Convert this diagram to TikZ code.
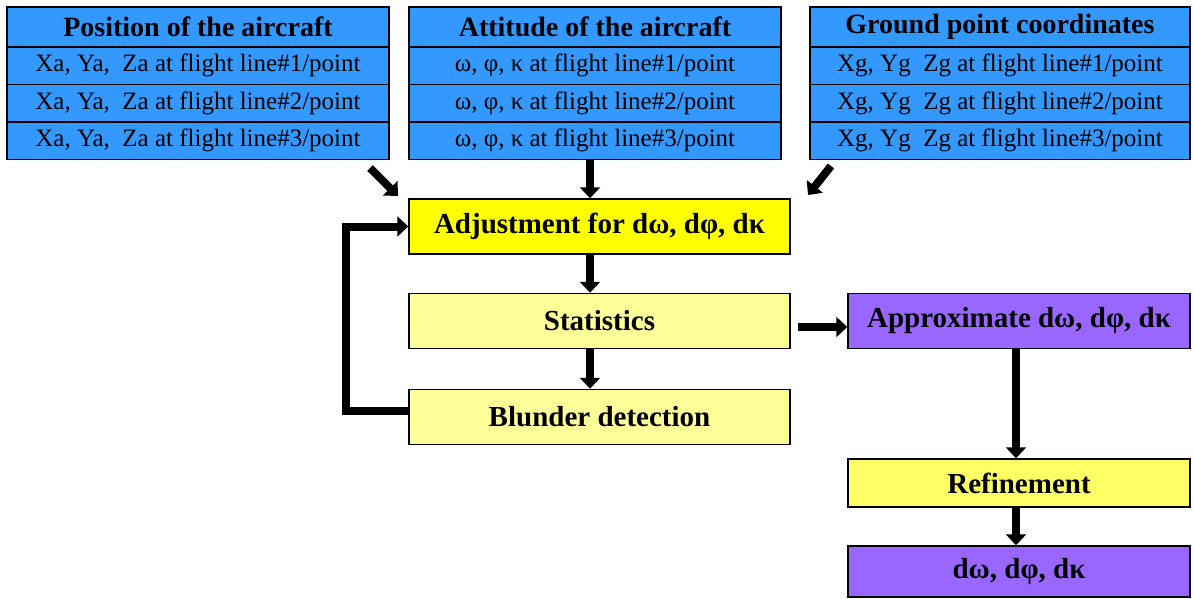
\documentclass[tikz,border=0pt]{standalone}
\usepackage{fontspec}
\setmainfont{Liberation Serif}
\usetikzlibrary{arrows.meta}
\definecolor{tblblue}{HTML}{3399FF}
\definecolor{adjyellow}{HTML}{FFFF00}
\definecolor{paleyellow}{HTML}{FFFF99}
\definecolor{refyellow}{HTML}{FFFF66}
\definecolor{violet}{HTML}{9966FF}
\tikzset{x=1pt, y=-1pt,
    cell/.style={draw=black, line width=1.5pt, fill=tblblue, inner sep=0pt,
        minimum height=37.5pt, font=\fontsize{25}{25}\selectfont},
    headcell/.style={cell, minimum height=40pt, font=\fontsize{28}{28}\selectfont\bfseries},
    stepbox/.style={draw=black, line width=1.5pt, inner sep=0pt,
        minimum width=381pt, minimum height=55pt, font=\fontsize{29}{29}\selectfont\bfseries},
    flow/.style={line width=8pt, -{Triangle[width=20pt,length=11pt]}},
    }

\begin{document}
\begin{tikzpicture}
\useasboundingbox (0,0) rectangle (1194,599);
% position table
\node[headcell, minimum width=382pt] (posT) at (198,27) {Position of the aircraft};
\node[cell, minimum width=382pt] (pos1) at (198,65.75) {Xa, Ya,\ \ Za at flight line\#1/point};
\node[cell, minimum width=382pt] (pos2) at (198,103.25) {Xa, Ya,\ \ Za at flight line\#2/point};
\node[cell, minimum width=382pt] (pos3) at (198,140.75) {Xa, Ya,\ \ Za at flight line\#3/point};
% attitude table
\node[headcell, minimum width=372pt] (attT) at (595,27) {Attitude of the aircraft};
\node[cell, minimum width=372pt] (att1) at (595,65.75) {ω, φ, κ at flight line\#1/point};
\node[cell, minimum width=372pt] (att2) at (595,103.25) {ω, φ, κ at flight line\#2/point};
\node[cell, minimum width=372pt] (att3) at (595,140.75) {ω, φ, κ at flight line\#3/point};
% ground point table
\node[headcell, minimum width=380pt] (gndT) at (1000,27) {Ground point coordinates};
\node[cell, minimum width=380pt] (gnd1) at (1000,65.75) {Xg, Yg\ \ Zg at flight line\#1/point};
\node[cell, minimum width=380pt] (gnd2) at (1000,103.25) {Xg, Yg\ \ Zg at flight line\#2/point};
\node[cell, minimum width=380pt] (gnd3) at (1000,140.75) {Xg, Yg\ \ Zg at flight line\#3/point};

% processing steps
\node[stepbox, fill=adjyellow] (adj) at (599.5,226.5) {Adjustment for dω, dφ, dκ};
\node[stepbox, fill=paleyellow] (stat) at (599.5,321) {Statistics};
\node[stepbox, fill=paleyellow] (blu) at (599.5,417) {Blunder detection};
\node[stepbox, fill=violet, minimum width=342pt] (appr) at (1019,321) {Approximate dω, dφ, dκ};
\node[stepbox, fill=refyellow, minimum width=342pt, minimum height=48pt] (refi) at (1019,483) {Refinement};
\node[stepbox, fill=violet, minimum width=342pt, minimum height=51pt] (res) at (1019,571.5) {dω, dφ, dκ};

% loose ends of the slanted arrows
\coordinate (posout) at (370,168);
\coordinate (adjinL) at (398,196);
\coordinate (gndout) at (831,166);
\coordinate (adjinR) at (808,195);

\draw[flow] (posout) -- (adjinL);
\draw[flow] (att3.south -| 590,0) -- (adj.north -| 590,0);
\draw[flow] (gndout) -- (adjinR);
\draw[flow] (adj.south -| 590,0) -- (stat.north -| 590,0);
\draw[flow] (stat.south -| 590,0) -- (blu.north -| 590,0);
\draw[flow] ([xshift=7pt,yshift=-6pt]stat.east) -- ([yshift=-6pt]appr.west);
\draw[flow] (appr.south -| 1016,0) -- (refi.north -| 1016,0);
\draw[flow] (refi.south -| 1016,0) -- (res.north -| 1016,0);
% feedback loop
\draw[flow] ([yshift=6pt]blu.west) -- ++(-62,0) |- (adj.west);
\end{tikzpicture}
\end{document}
